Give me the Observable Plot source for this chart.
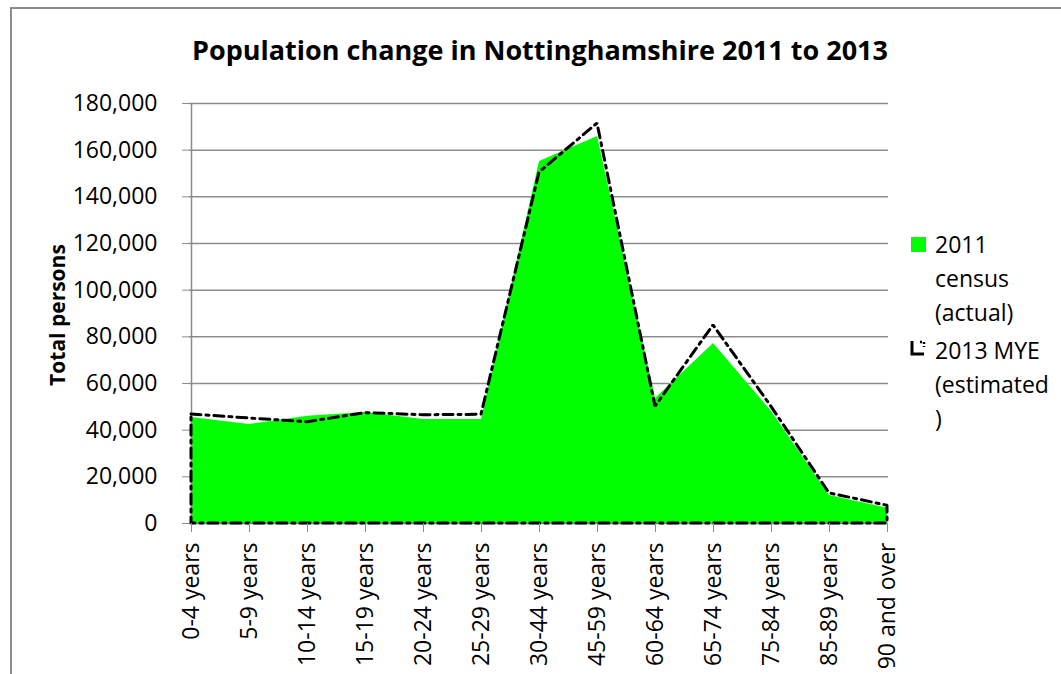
<!DOCTYPE html>
<html>
<head>
<meta charset="utf-8">
<script src="https://cdn.jsdelivr.net/npm/d3@7"></script>
<script src="https://cdn.jsdelivr.net/npm/@observablehq/plot@0.6"></script>
<style>
  html, body { margin: 0; padding: 0; background: #fff; }
  body { width: 1061px; height: 674px; overflow: hidden; font-family: "Open Sans", sans-serif; }
  #wrap { position: relative; width: 1061px; height: 674px; }
  #frame { position: absolute; left: 10px; top: 7px; width: 1100px; height: 720px; border: 2px solid #8c8c8c; box-sizing: border-box; }
  #title { position: absolute; left: 0; width: 1080px; top: 31px; text-align: center; font-weight: bold; font-size: 27px; line-height: 37px; color: #000; }
  #ylab { position: absolute; left: 57px; top: 315px; width: 0; height: 0; }
  #ylab span { position: absolute; transform: translate(-50%, -50%) rotate(-90deg); white-space: nowrap; font-weight: bold; font-size: 21px; line-height: 28px; }
  .leg { position: absolute; left: 935px; font-size: 23px; line-height: 34px; color: #000; }
  .sw { position: absolute; }
  #chart { position: absolute; left: 0; top: 0; }
</style>
</head>
<body>
<div id="wrap">
  <div id="frame"></div>
  <div id="chart"></div>
  <div id="title">Population change in Nottinghamshire 2011 to 2013</div>
  <div id="ylab"><span>Total persons</span></div>
  <svg class="sw" style="left:911px;top:237px" width="15" height="15"><rect width="15" height="15" fill="#00ff00"/></svg>
  <div class="leg" style="top:227px">2011<br>census<br>(actual)</div>
  <svg class="sw" style="left:909px;top:339px" width="18" height="18"><path d="M3,2 L3,15 L15,15" fill="none" stroke="#000" stroke-width="3"/><path d="M11,3 L15,3 M15,3 L15,8" fill="none" stroke="#000" stroke-width="2.5" stroke-dasharray="2,2"/></svg>
  <div class="leg" style="top:333px">2013 MYE<br>(estimated<br>)</div>
</div>
<script>
const categories = ["0-4 years","5-9 years","10-14 years","15-19 years","20-24 years","25-29 years","30-44 years","45-59 years","60-64 years","65-74 years","75-84 years","85-89 years","90 and over"];
const census2011 = [45400, 42400, 46000, 47600, 44600, 44600, 155100, 165900, 53600, 77100, 48000, 12000, 6500];
const mye2013 = [46700, 45000, 43400, 47300, 46400, 46600, 150400, 171400, 50100, 84900, 50000, 12900, 7600];
const yTicks = [0, 20000, 40000, 60000, 80000, 100000, 120000, 140000, 160000, 180000];

const data = categories.map((c, i) => ({age: c, census: census2011[i], mye: mye2013[i]}));
const grid = "#8c8c8c";

const chart = Plot.plot({
  width: 1061,
  height: 674,
  marginLeft: 189,
  marginRight: 173,
  marginTop: 103,
  marginBottom: 151,
  style: {fontFamily: "Open Sans, sans-serif", fontSize: "23px", background: "transparent", overflow: "visible"},
  x: {type: "point", domain: categories, padding: 0},
  y: {domain: [0, 180000]},
  marks: [
    Plot.gridY(yTicks.slice(1), {stroke: grid, strokeOpacity: 1, strokeWidth: 1.5}),
    Plot.areaY(data, {x: "age", y: "census", fill: "#00ff00"}),
    Plot.ruleX([categories[0]], {stroke: grid, strokeWidth: 1.5}),
    Plot.ruleY([0], {stroke: grid, strokeWidth: 1.5}),
    Plot.areaY(data, {x: "age", y: "mye", fill: "none", stroke: "#000", strokeWidth: 3, strokeDasharray: "10,5,3,5", strokeLinejoin: "miter"}),
    Plot.axisY(yTicks, {tickFormat: d3.format(","), tickSize: 7, tickPadding: 25, stroke: grid, fill: "#000", label: null, fontSize: 23}),
    Plot.axisX({tickRotate: -90, tickSize: 9, tickPadding: 10, stroke: grid, fill: "#000", label: null, fontSize: 23})
  ]
});
document.getElementById("chart").appendChild(chart);
</script>
</body>
</html>
